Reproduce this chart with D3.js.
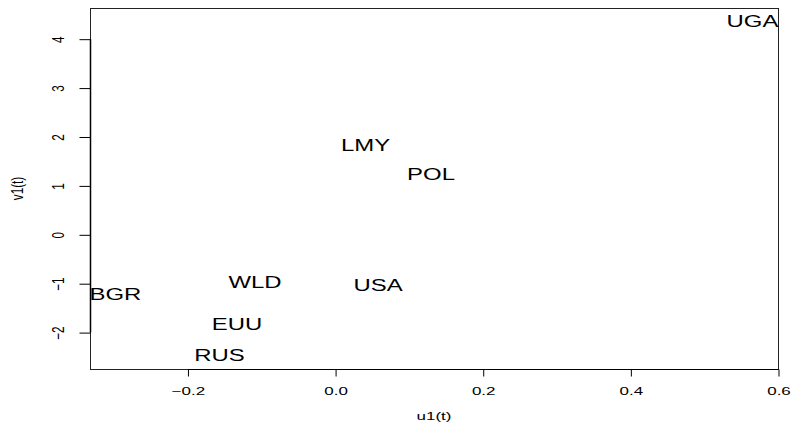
<!DOCTYPE html>
<html>
<head>
<meta charset="utf-8">
<script src="https://cdn.jsdelivr.net/npm/d3@7"></script>
<style>
  html, body { margin: 0; padding: 0; background: #fff; }
  svg { display: block; font-family: "Liberation Sans", Arial, Helvetica, sans-serif; }
</style>
</head>
<body>
<svg id="chart" width="791" height="423"></svg>
<script>
// Country / aggregate codes and their first singular-vector scores
const codes = ["UGA", "LMY", "POL", "BGR", "WLD", "USA", "EUU", "RUS"];
const u1 = [0.5655, 0.0414, 0.130, -0.2975, -0.1085, 0.0583, -0.1329, -0.1566];
const v1 = [4.354, 1.826, 1.227, -1.227, -0.990, -1.037, -1.834, -2.481];

const xTicks = [-0.2, 0.0, 0.2, 0.4, 0.6];
const xTickLabels = ["\u22120.2", "0.0", "0.2", "0.4", "0.6"];
const yTicks = [-2, -1, 0, 1, 2, 3, 4];
const yTickLabels = ["\u22122", "\u22121", "0", "1", "2", "3", "4"];

const xTitle = "u1(t)";
const yTitle = "v1(t)";

// Plot region and horizontal text stretch of the output device
const plot = { left: 90, right: 778, top: 8, bottom: 369 };
const sx = 1.45;

// R-style axis ranges: data extent padded by 4% on each side
function padded(values) {
  const [lo, hi] = d3.extent(values);
  const d = (hi - lo) * 0.04;
  return [lo - d, hi + d];
}

const x = d3.scaleLinear().domain(padded(u1)).range([plot.left, plot.right]);
const y = d3.scaleLinear().domain(padded(v1)).range([plot.bottom, plot.top]);

const svg = d3.select("#chart");

// Stretched text helper: anchor at (px, py), optional rotation
function stext(g, px, py, str, size, rotate) {
  return g.append("text")
    .attr("transform", `translate(${px},${py}) scale(${sx},1)` + (rotate ? ` rotate(${rotate})` : ""))
    .attr("text-anchor", "middle")
    .attr("dy", "0.35em")
    .attr("font-size", size)
    .attr("fill", "#000")
    .text(str);
}

// Box around the plot
svg.append("rect")
  .attr("x", plot.left + 0.5)
  .attr("y", plot.top + 0.5)
  .attr("width", plot.right - plot.left)
  .attr("height", plot.bottom - plot.top)
  .attr("fill", "none")
  .attr("stroke", "#222")
  .attr("stroke-width", 1);

// Bottom axis
const xAxis = d3.axisBottom(x)
  .tickValues(xTicks)
  .tickSize(7)
  .tickSizeOuter(0)
  .tickFormat((d, i) => xTickLabels[i]);

const gx = svg.append("g")
  .attr("transform", `translate(0.5,${plot.bottom + 0.5})`)
  .call(xAxis);
gx.select(".domain").attr("stroke", "#000").attr("d", `M${x(xTicks[0])},0H${x(xTicks[xTicks.length - 1])}`);
gx.selectAll(".tick line").attr("stroke", "#000");
gx.selectAll(".tick text").remove();
gx.selectAll(".tick").each(function (d, i) {
  stext(d3.select(this), 0, 21, xTickLabels[i], 11.7, 0);
});

// Left axis
const yAxis = d3.axisLeft(y)
  .tickValues(yTicks)
  .tickSize(11)
  .tickSizeOuter(0)
  .tickFormat((d, i) => yTickLabels[i]);

const gy = svg.append("g")
  .attr("transform", `translate(${plot.left + 0.5},0.5)`)
  .call(yAxis);
gy.select(".domain").attr("stroke", "#000").attr("stroke-width", 1.5)
  .attr("d", `M0,${y(yTicks[0])}V${y(yTicks[yTicks.length - 1])}`);
gy.selectAll(".tick line").attr("stroke", "#000");
gy.selectAll(".tick text").remove();
gy.selectAll(".tick").each(function (d, i) {
  stext(d3.select(this), -32, 0, yTickLabels[i], 11.7, -90);
});

// Axis titles
stext(svg, (plot.left + plot.right) / 2, 416, xTitle, 11.7, 0);
stext(svg, 17, (plot.top + plot.bottom) / 2, yTitle, 11.7, -90);

// Point labels drawn in place of markers
const labels = svg.append("g");
codes.forEach((c, i) => {
  stext(labels, x(u1[i]), y(v1[i]), c, 16.5, 0);
});
</script>
</body>
</html>
